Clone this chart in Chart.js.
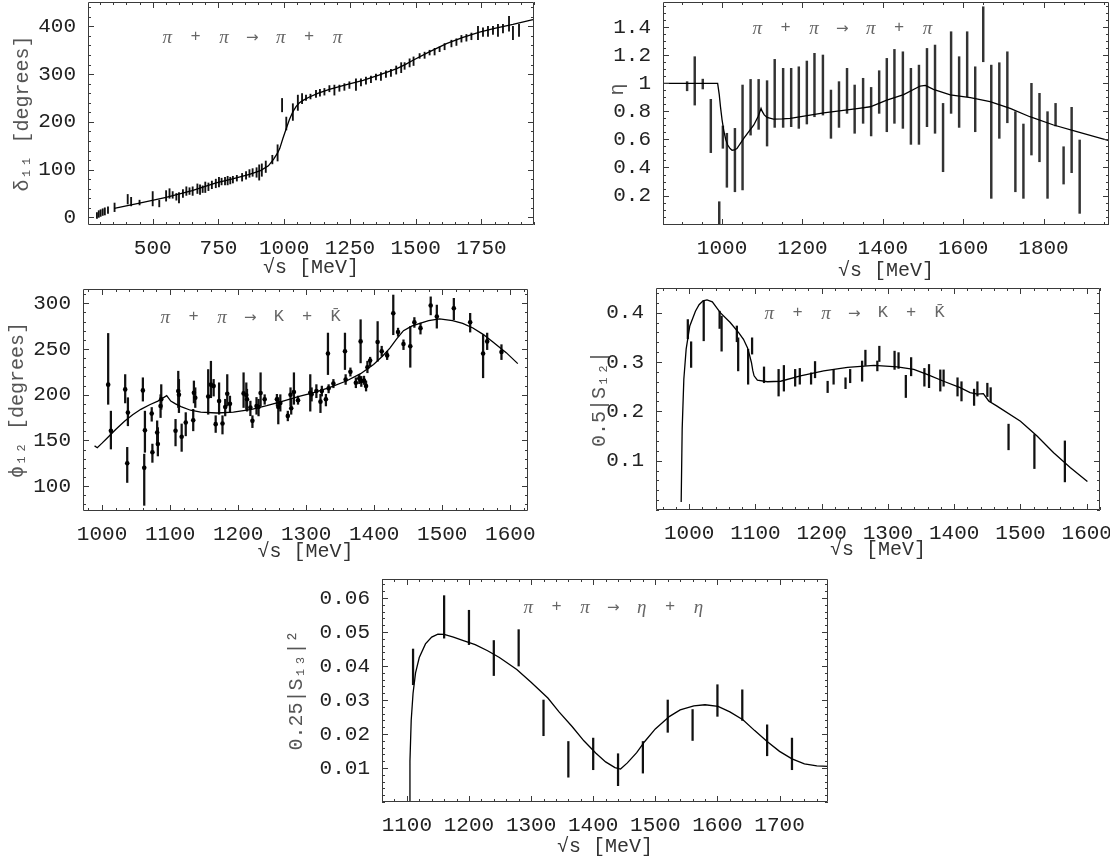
<!DOCTYPE html>
<html><head><meta charset="utf-8">
<script src="https://cdn.jsdelivr.net/npm/chart.js@4.4.0/dist/chart.umd.min.js"></script>
<style>
html,body{margin:0;padding:0;background:#fff;width:1120px;height:859px;overflow:hidden;position:relative;}
canvas{position:absolute;}
.rx{position:absolute;display:flex;font-family:'Liberation Mono','DejaVu Sans Mono',monospace;color:#666;font-size:17px;height:24px;line-height:24px;white-space:nowrap;}
.rx span{display:inline-block;width:28.4px;text-align:center;}
.rx .g{font-family:'Liberation Serif','DejaVu Serif',serif;font-style:italic;font-size:19px;}
.rx .a{font-family:'DejaVu Sans',sans-serif;font-size:15px;}
</style></head><body>
<canvas id="c1" width="533" height="280" style="left:11px;top:0px"></canvas>
<canvas id="c2" width="513" height="283" style="left:606px;top:0px"></canvas>
<canvas id="c3" width="532" height="279" style="left:6px;top:285px"></canvas>
<canvas id="c4" width="522" height="276" style="left:588px;top:286px"></canvas>
<canvas id="c5" width="553" height="282" style="left:285px;top:577px"></canvas>
<div class="rx" style="left:153px;top:25px"><span class="g">π</span><span>+</span><span class="g">π</span><span class="a">→</span><span class="g">π</span><span>+</span><span class="g">π</span></div>
<div class="rx" style="left:743px;top:16px"><span class="g">π</span><span>+</span><span class="g">π</span><span class="a">→</span><span class="g">π</span><span>+</span><span class="g">π</span></div>
<div class="rx" style="left:151px;top:305px"><span class="g">π</span><span>+</span><span class="g">π</span><span class="a">→</span><span>K</span><span>+</span><span>K̄</span></div>
<div class="rx" style="left:755px;top:301px"><span class="g">π</span><span>+</span><span class="g">π</span><span class="a">→</span><span>K</span><span>+</span><span>K̄</span></div>
<div class="rx" style="left:514px;top:595px"><span class="g">π</span><span>+</span><span class="g">π</span><span class="a">→</span><span class="g">η</span><span>+</span><span class="g">η</span></div>
<script>
// ---------- Panel 1: pi pi -> pi pi, delta_11 ----------
const P1_CURVE_X = [354,450,551,650,741,800,868,910,940,960,975,983,995,1008,1020,1033,1045,1058,1075,1096,1130,1172,1230,1300,1360,1426,1460,1490,1550,1617,1680,1743,1800,1870,1946];
const P1_CURVE_Y = [19,30,42,56,72,80,90,98,108,122,135,144,165,186,205,221,232,240,246,252,260,268,277,287,298,311,320,329,346,364,377,388,396,404,414];
const P1_X  = [288,295,302,310,318,330,355,405,418,450,500,525,551,564,576,590,600,615,628,640,652,670,680,690,700,712,725,740,752,762,775,785,795,805,820,840,855,868,880,895,905,915,930,955,975,992,1008,1033,1052,1068,1083,1100,1121,1136,1153,1172,1191,1210,1229,1248,1273,1292,1311,1330,1349,1368,1387,1406,1426,1445,1458,1477,1492,1515,1534,1553,1572,1591,1610,1636,1655,1674,1693,1712,1737,1756,1775,1794,1813,1832,1855,1870,1893];
const P1_LO = [-2,0,2,4,5,8,12,28,24,26,24,22,34,40,40,36,30,42,46,48,46,50,48,52,52,56,60,62,64,68,68,68,70,72,76,76,80,84,86,84,78,86,94,112,118,221,183,203,224,238,245,248,251,254,256,263,256,264,266,270,266,275,279,282,288,287,293,295,300,303,310,315,318,333,333,340,340,347,351,357,360,367,369,372,372,379,379,383,379,386,390,372,379];
const P1_HI = [10,14,16,18,20,22,30,48,42,36,54,36,56,60,54,50,52,58,64,62,64,70,68,66,74,72,76,80,84,82,84,86,84,86,88,92,96,100,102,104,110,112,118,130,152,249,210,238,256,259,256,258,266,268,270,276,277,277,280,284,290,290,294,296,300,303,307,310,317,324,324,332,336,343,346,350,354,357,364,371,374,381,383,386,400,397,400,400,404,404,421,400,404];
const P1_XTICKS = [500,750,1000,1250,1500,1750];
const P1_XLABELS = ['500','750','1000','1250','1500','1750'];
const P1_YTICKS = [0,100,200,300,400];
const P1_YLABELS = ['0','100','200','300','400'];

// ---------- Panel 2: pi pi -> pi pi, eta ----------
const P2_CURVE_X = [855,989,993,996,1000,1004,1009,1014,1020,1025,1031,1037,1054,1079,1090,1097,1100,1105,1112,1128,1150,1170,1253,1336,1369,1410,1452,1493,1506,1526,1568,1618,1667,1717,1766,1825,1883,1963];
const P2_CURVE_Y = [1,1,0.92,0.834,0.74,0.667,0.6,0.56,0.535,0.523,0.525,0.535,0.608,0.703,0.765,0.822,0.8,0.775,0.757,0.745,0.746,0.75,0.79,0.82,0.833,0.88,0.92,0.981,0.985,0.957,0.917,0.898,0.869,0.822,0.762,0.703,0.655,0.591];
const P2_X  = [913,932,952,972,993,1002,1012,1032,1051,1071,1091,1112,1131,1152,1172,1191,1211,1230,1251,1271,1291,1311,1330,1351,1371,1391,1410,1429,1450,1470,1490,1510,1530,1550,1570,1590,1610,1630,1650,1670,1690,1710,1730,1750,1770,1790,1810,1830,1850,1870,1890];
const P2_LO = [0.947,0.845,0.96,0.506,-0.01,0.537,0.259,0.227,0.24,0.631,0.672,0.553,0.686,0.686,0.691,0.679,0.71,0.762,0.774,0.608,0.686,0.786,0.644,0.715,0.625,0.786,0.655,0.715,0.679,0.565,0.565,0.691,0.644,0.37,0.786,0.686,0.905,0.655,1.154,0.18,0.608,0.719,0.227,0.18,0.489,0.441,0.18,0.696,0.282,0.363,0.073];
const P2_HI = [1.012,1.19,1.03,0.886,0.156,0.696,0.644,0.679,0.988,1.028,1.028,1.019,1.171,1.107,1.107,1.118,1.159,1.214,1.202,0.952,1.012,1.107,0.988,1.036,0.971,1.09,1.178,1.242,1.225,1.107,1.13,1.249,1.273,0.857,1.368,1.19,1.368,1.118,1.546,1.13,1.147,1.225,0.798,0.71,1.0,0.929,0.798,0.857,0.548,0.829,0.596];
const P2_XTICKS = [1000,1200,1400,1600,1800];
const P2_XLABELS = ['1000','1200','1400','1600','1800'];
const P2_YTICKS = [0.2,0.4,0.6,0.8,1,1.2,1.4];
const P2_YLABELS = ['0.2','0.4','0.6','0.8','1','1.2','1.4'];

// ---------- Panel 3: pi pi -> K Kbar, phi_12 ----------
const P3_CURVE_X = [989,993,1000,1008,1020,1033,1045,1057,1070,1082,1095,1101,1108,1116,1130,1145,1169,1193,1220,1242,1261,1291,1310,1335,1359,1380,1399,1412,1423,1433,1443,1455,1467,1480,1496,1515,1530,1545,1560,1574,1594,1611];
const P3_CURVE_Y = [144,142,147,153,162,171,178,184,189,193,199,193,190,187,183,181,180,181,184,188,192,198.5,202,208,215,223,233,242,251,261,270,275,278,281,283,281,278,273,266,258,246,234];
const P3_X   = [1009,1013,1034,1037,1038,1060,1062,1063,1073,1074,1081,1082,1086,1087,1108,1112,1113,1117,1123,1134,1135,1137,1156,1160,1164,1167,1172,1177,1181,1184,1188,1208,1212,1213,1218,1221,1227,1230,1233,1239,1257,1259,1262,1273,1277,1278,1282,1288,1306,1308,1315,1321,1323,1329,1332,1333,1340,1357,1358,1365,1373,1378,1380,1381,1385,1388,1390,1394,1405,1411,1419,1428,1435,1443,1453,1459,1468,1483,1492,1517,1541,1560,1566,1587];
const P3_VAL = [211,160.5,205.8,125,180.4,204.7,120,161,179.3,137,158.7,146,187.7,195,160.5,204,200,154,169.6,172,202,196.7,198,211,209.4,167.8,193,168.5,186.6,201,190,201.4,199.6,195,186,171.4,187.7,186.6,201.8,195,195,186.6,191,176.8,200,185.2,203,194,202,200.4,204,192.4,204,195,245,207,212.3,247.5,216.7,225,213,217.8,258.3,215,215.6,209.4,230,237.3,257.6,247.5,243,289,268.5,255.4,253,279.3,272.8,297.5,285.5,294.6,279.3,245,258.3,246.7];
const P3_LO  = [189.5,140.6,191,104,166,193,79,137,171,126,146,133,175,184,144,186,180.4,138,155,160.5,191,186,178.6,196.7,198.5,158.7,178.6,157,176.8,187.7,180.4,186,184,182,177,164,178.6,176.8,187.7,189.5,187.7,168,182,171.4,187.7,178.6,189.5,189.5,182,193,196.7,180.4,198.5,187.7,222,202,207.6,227.5,211.2,220.3,207.6,212,234.8,209,211.2,204,224,231,236.6,242,238.4,265.6,263.8,249.3,230,273.6,266.3,287.3,272.8,282,268.5,218.5,249.3,238.4];
const P3_HI  = [267,182,222,142.4,196.7,218.5,135,182,186,146,171.4,164,200,211,173,225.7,216.7,168,180.4,184,215,207.6,227.5,236.6,216.7,177,213,177,195,222,198.5,224,213,206,193,177,197,195,224,200,200.4,196.7,200,182,207.6,195,224,198.5,222,207.6,211,200.4,209.4,200.4,267.4,211,216.7,267.4,222,229.3,218.5,222,282,220,220.3,215,236.6,241,280,253,247.5,309,272.8,260,274.6,284.4,278.3,307,298,305.4,289,265.6,267.4,254.7];
const P3_XTICKS = [1000,1100,1200,1300,1400,1500,1600];
const P3_XLABELS = ['1000','1100','1200','1300','1400','1500','1600'];
const P3_YTICKS = [100,150,200,250,300];
const P3_YLABELS = ['100','150','200','250','300'];

// ---------- Panel 4: pi pi -> K Kbar, 0.5|S12| ----------
const P4_CURVE_X = [988,989.5,992,995.5,1001,1009.5,1015,1021,1027,1035,1047,1062,1075,1082,1088,1091,1094,1096,1098,1103,1118,1138,1168,1203,1239,1279,1314,1339,1359,1384,1409,1424,1435,1444,1452,1464,1500,1525,1550,1575,1601];
const P4_CURVE_Y = [0.016,0.164,0.265,0.326,0.373,0.403,0.416,0.424,0.426,0.422,0.40,0.38,0.359,0.346,0.329,0.315,0.299,0.283,0.272,0.263,0.26,0.261,0.272,0.282,0.289,0.293,0.29,0.285,0.275,0.261,0.248,0.238,0.235,0.236,0.221,0.211,0.18,0.15,0.116,0.086,0.058];
const P4_X  = [998,1003,1022,1046,1049,1072,1074,1089,1095,1113,1135,1143,1160,1167,1184,1190,1209,1218,1236,1243,1261,1266,1284,1287,1310,1316,1327,1335,1355,1362,1379,1384,1405,1411,1430,1435,1450,1455,1482,1521,1567];
const P4_LO = [0.347,0.289,0.343,0.368,0.322,0.341,0.282,0.255,0.316,0.258,0.231,0.241,0.251,0.255,0.255,0.268,0.238,0.255,0.246,0.258,0.261,0.293,0.282,0.301,0.285,0.287,0.228,0.272,0.251,0.248,0.241,0.251,0.231,0.221,0.212,0.231,0.23,0.219,0.122,0.084,0.057];
const P4_HI = [0.386,0.341,0.424,0.403,0.393,0.373,0.349,0.326,0.349,0.29,0.285,0.293,0.285,0.287,0.278,0.301,0.261,0.285,0.268,0.285,0.302,0.324,0.302,0.332,0.322,0.319,0.273,0.309,0.287,0.295,0.284,0.284,0.268,0.26,0.245,0.26,0.257,0.248,0.174,0.153,0.14];
const P4_XTICKS = [1000,1100,1200,1300,1400,1500,1600];
const P4_XLABELS = ['1000','1100','1200','1300','1400','1500','1600'];
const P4_YTICKS = [0.1,0.2,0.3,0.4];
const P4_YLABELS = ['0.1','0.2','0.3','0.4'];

// ---------- Panel 5: pi pi -> eta eta, 0.25|S13|^2 ----------
const P5_CURVE_X = [1104,1105,1107,1110,1114,1120,1130,1140,1150,1160,1175,1191,1210,1230,1249,1277,1300,1327,1345,1366,1385,1404,1420,1435,1444,1455,1470,1483,1500,1523,1540,1562,1580,1601,1620,1641,1660,1680,1700,1720,1740,1760,1778];
const P5_CURVE_Y = [0,0.012,0.024,0.032,0.038,0.0425,0.0465,0.0485,0.0494,0.0493,0.0485,0.0475,0.0463,0.0445,0.0425,0.039,0.0352,0.0306,0.0265,0.0222,0.018,0.0144,0.0118,0.0101,0.0097,0.0115,0.0145,0.0178,0.0215,0.0252,0.0271,0.0283,0.0286,0.0281,0.0265,0.0242,0.021,0.0178,0.0149,0.0127,0.0112,0.0106,0.0105];
const P5_X  = [1110,1160,1200,1240,1280,1320,1360,1400,1440,1480,1520,1560,1600,1640,1680,1720];
const P5_LO = [0.0345,0.0482,0.0463,0.0372,0.040,0.0195,0.0073,0.0095,0.0048,0.0085,0.0205,0.0181,0.0252,0.024,0.0136,0.0095];
const P5_HI = [0.045,0.0607,0.0564,0.0475,0.0507,0.030,0.0178,0.0188,0.0142,0.0178,0.030,0.0272,0.0345,0.033,0.0227,0.0188];
const P5_XTICKS = [1100,1200,1300,1400,1500,1600,1700];
const P5_XLABELS = ['1100','1200','1300','1400','1500','1600','1700'];
const P5_YTICKS = [0.01,0.02,0.03,0.04,0.05,0.06];
const P5_YLABELS = ['0.01','0.02','0.03','0.04','0.05','0.06'];

// ---------- helpers ----------
const pts = (xs, ys) => xs.map((x, i) => ({x, y: ys[i]}));
const bars = (xs, lo, hi) => xs.map((x, i) => ({x, y: [lo[i], hi[i]]}));

const framePlugin = {
  id: 'frame',
  afterDatasetsDraw(chart) {
    const o = chart.options.plugins.frame;
    const {ctx, chartArea: a} = chart;
    const xs = chart.scales.x, ys = chart.scales.y;
    ctx.save();
    ctx.strokeStyle = '#3a3a3a';
    ctx.lineWidth = 1;
    ctx.beginPath();
    ctx.rect(a.left + 0.5, a.top + 0.5, a.right - a.left - 1, a.bottom - a.top - 1);
    const mark = (scale, v, len) => {
      const p = Math.round(scale.getPixelForValue(v)) + 0.5;
      if (scale.isHorizontal()) {
        ctx.moveTo(p, a.bottom); ctx.lineTo(p, a.bottom - len);
        ctx.moveTo(p, a.top); ctx.lineTo(p, a.top + len);
      } else {
        ctx.moveTo(a.left, p); ctx.lineTo(a.left + len, p);
        ctx.moveTo(a.right, p); ctx.lineTo(a.right - len, p);
      }
    };
    const minor = (scale, step) => {
      const n0 = Math.ceil(scale.min / step - 1e-9), n1 = Math.floor(scale.max / step + 1e-9);
      for (let n = n0; n <= n1; n++) mark(scale, n * step, 3);
    };
    minor(xs, o.xMinor); minor(ys, o.yMinor);
    xs.ticks.forEach(t => mark(xs, t.value, 6));
    ys.ticks.forEach(t => mark(ys, t.value, 6));
    ctx.stroke();
    ctx.restore();
  }
};

function makePanel(c) {
  const datasets = [
    {type: 'line', data: pts(c.cx, c.cy), borderColor: '#000', borderWidth: 1.3, pointRadius: 0, tension: 0, fill: false}
  ];
  if (c.dots) datasets.push({type: 'scatter', data: pts(c.bx, c.dots), pointRadius: 2.3, pointBackgroundColor: '#000', pointBorderWidth: 0, showLine: false});
  datasets.push({type: 'bar', data: bars(c.bx, c.blo, c.bhi), backgroundColor: c.barColor || '#111', borderWidth: 0, barThickness: c.barW || 1.4, grouped: false});
  const font = {family: "'Liberation Mono','DejaVu Sans Mono',monospace", size: 21};
  const tfont = {family: "'Liberation Mono','DejaVu Sans Mono',monospace", size: 20};
  new Chart(document.getElementById(c.id), {
    type: 'scatter',
    data: {datasets},
    plugins: [framePlugin],
    options: {
      responsive: false, animation: false,
      layout: {padding: {left: 0, top: 2, right: 10, bottom: 0}},
      plugins: {legend: {display: false}, tooltip: {enabled: false}, frame: {xMinor: c.xMinor, yMinor: c.yMinor}},
      scales: {
        x: {
          type: 'linear', min: c.xmin, max: c.xmax, offset: false,
          grid: {display: false}, border: {display: false},
          afterBuildTicks: s => { s.ticks = c.xticks.map(v => ({value: v})); },
          afterFit: s => { s.height = c.xH; s.paddingLeft = 0; s.paddingRight = 0; },
          ticks: {autoSkip: false, maxRotation: 0, padding: 3, color: '#222', font,
                  callback: v => c.xlabels[c.xticks.indexOf(v)]},
          title: {display: true, text: '√s [MeV]', color: '#333', font: tfont, padding: 0}
        },
        y: {
          type: 'linear', min: c.ymin, max: c.ymax,
          grid: {display: false}, border: {display: false},
          afterBuildTicks: s => { s.ticks = c.yticks.map(v => ({value: v})); },
          afterFit: s => { s.width = c.yW; s.paddingTop = 0; s.paddingBottom = 0; },
          ticks: {autoSkip: false, padding: 4, color: '#222', font,
                  callback: v => c.ylabels[c.yticks.indexOf(v)]},
          title: {display: true, text: c.ytitle, color: '#555', font: tfont, padding: 0}
        }
      }
    }
  });
}

makePanel({id: 'c1', yW: 77, xH: 55, xmin: 254, xmax: 1950, ymin: -16, ymax: 451,
  xticks: P1_XTICKS, xlabels: P1_XLABELS, yticks: P1_YTICKS, ylabels: P1_YLABELS, xMinor: 50, yMinor: 20,
  cx: P1_CURVE_X, cy: P1_CURVE_Y, bx: P1_X, blo: P1_LO, bhi: P1_HI, barW: 1.2, ytitle: 'δ₁₁ [degrees]'});
makePanel({id: 'c2', yW: 57, xH: 58, xmin: 853, xmax: 1963, ymin: -0.01, ymax: 1.58,
  xticks: P2_XTICKS, xlabels: P2_XLABELS, yticks: P2_YTICKS, ylabels: P2_YLABELS, xMinor: 50, yMinor: 0.05,
  cx: P2_CURVE_X, cy: P2_CURVE_Y, bx: P2_X, blo: P2_LO, bhi: P2_HI, barW: 1.8, barColor: '#333', ytitle: '    η'});
makePanel({id: 'c3', yW: 77, xH: 53, xmin: 972, xmax: 1626, ymin: 72.8, ymax: 315.6,
  xticks: P3_XTICKS, xlabels: P3_XLABELS, yticks: P3_YTICKS, ylabels: P3_YLABELS, xMinor: 20, yMinor: 10,
  cx: P3_CURVE_X, cy: P3_CURVE_Y, bx: P3_X, dots: P3_VAL, blo: P3_LO, bhi: P3_HI, barW: 1.6, ytitle: 'ϕ₁₂ [degrees]'});
makePanel({id: 'c4', yW: 68, xH: 52, xmin: 950, xmax: 1620, ymin: 0, ymax: 0.45,
  xticks: P4_XTICKS, xlabels: P4_XLABELS, yticks: P4_YTICKS, ylabels: P4_YLABELS, xMinor: 20, yMinor: 0.02,
  cx: P4_CURVE_X, cy: P4_CURVE_Y, bx: P4_X, blo: P4_LO, bhi: P4_HI, barW: 1.6, ytitle: '0.5|S₁₂|'});
makePanel({id: 'c5', yW: 97, xH: 57, xmin: 1060, xmax: 1778, ymin: 0, ymax: 0.0656,
  xticks: P5_XTICKS, xlabels: P5_XLABELS, yticks: P5_YTICKS, ylabels: P5_YLABELS, xMinor: 20, yMinor: 0.002,
  cx: P5_CURVE_X, cy: P5_CURVE_Y, bx: P5_X, blo: P5_LO, bhi: P5_HI, barW: 1.6, ytitle: '0.25|S₁₃|²'});
</script>
</body></html>
